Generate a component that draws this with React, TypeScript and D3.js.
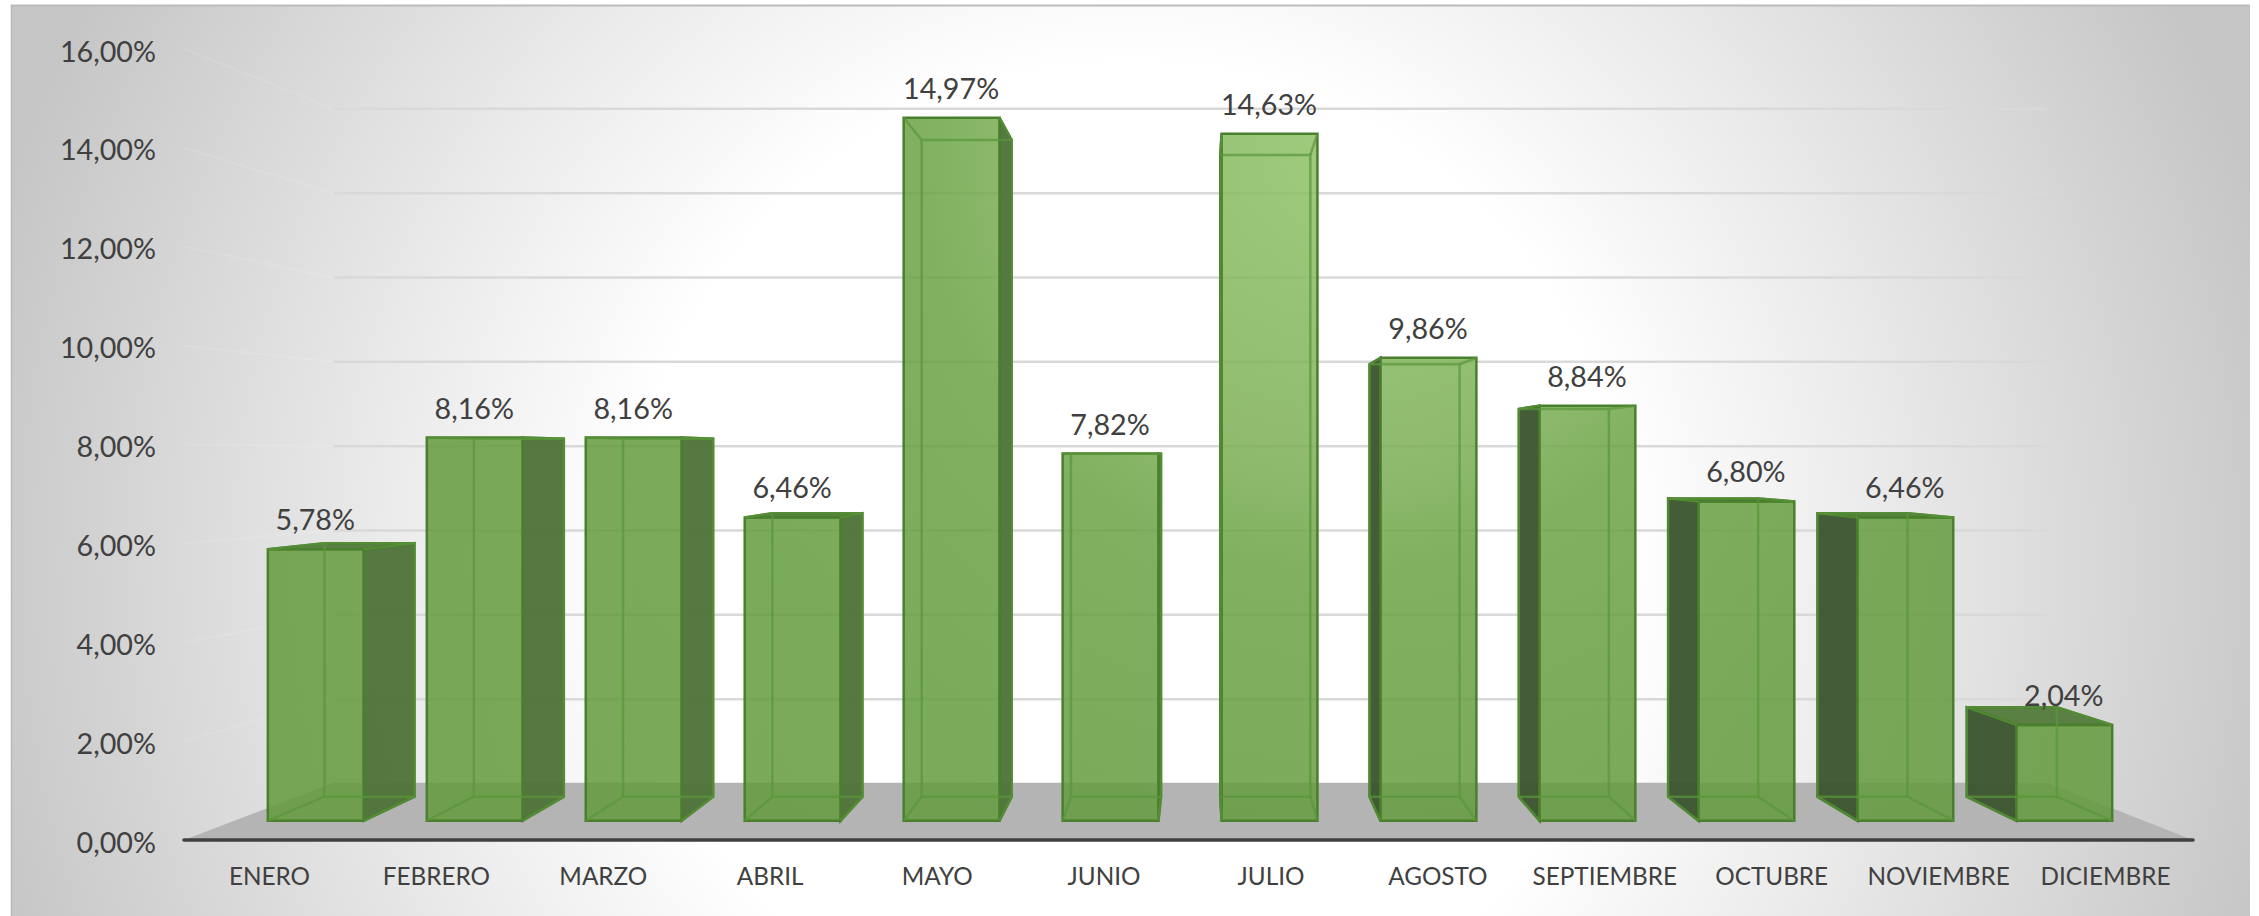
import React from 'react';
import * as d3 from 'd3';

const months = ['ENERO', 'FEBRERO', 'MARZO', 'ABRIL', 'MAYO', 'JUNIO', 'JULIO', 'AGOSTO', 'SEPTIEMBRE', 'OCTUBRE', 'NOVIEMBRE', 'DICIEMBRE'];
const shares = [5.78, 8.16, 8.16, 6.46, 14.97, 7.82, 14.63, 9.86, 8.84, 6.8, 6.46, 2.04];
const yTicks = [0, 2, 4, 6, 8, 10, 12, 14, 16];

const width = 2259;
const height = 916;
const font = 'Lato, "Open Sans", sans-serif';
const textColor = '#404040';
const axisLeft = 184;
const axisRight = 2193;

// front plane of the 3D box, everything else is pulled towards the vanishing point
const x = d3.scaleBand<string>().domain(months).range([185, 2194]).paddingInner(0.397).paddingOuter(0.2);
const y = d3.scaleLinear().domain([0, 16]).range([840, 49]);
const labelScale = d3.scaleBand<string>().domain(months).range([186, 2189]);
const vanish = { x: 1200, y: 456 };
const wallDepth = 0.851;
const barFront = 0.9497;
const barBack = 0.892;
const barBackY = 0.8872;

const comma = d3.formatLocale({ decimal: ',', thousands: '.', grouping: [3], currency: ['', ''] });
const pct = (v: number) => comma.format('.2f')(v) + '%';

const project = (px: number, py: number, sx: number, sy: number = sx): [number, number] => [
  vanish.x + (px - vanish.x) * sx,
  vanish.y + (py - vanish.y) * sy,
];

const line = d3.line();
const poly = (pts: [number, number][]) => line(pts) + 'Z';

function Bar({ month, value }: { month: string; value: number }) {
  const x0 = x(month) as number;
  const x1 = x0 + x.bandwidth();
  const f = [project(x0, y(value), barFront), project(x1, y(value), barFront), project(x1, y(0), barFront), project(x0, y(0), barFront)];
  const b = [project(x0, y(value), barBack, barBackY), project(x1, y(value), barBack, barBackY), project(x1, y(0), barBack, barBackY), project(x0, y(0), barBack, barBackY)];
  const labelX = (f[0][0] + f[1][0]) / 2 - 0.5;
  return (
    <g>
      {b[0][1] < f[0][1] && <path d={poly([f[0], f[1], b[1], b[0]])} fill="#5a8044" stroke="#44752a" strokeWidth={2.5} />}
      {b[0][0] < f[0][0] && <path d={poly([f[0], b[0], b[3], f[3]])} fill="#3c5530" fillOpacity={0.96} stroke="#3a6622" strokeWidth={2.5} />}
      {b[1][0] > f[1][0] && <path d={poly([f[1], b[1], b[2], f[2]])} fill="#4f7239" fillOpacity={0.96} stroke="#44752a" strokeWidth={2.5} />}
      <path d={poly(f)} fill="url(#barFill)" fillOpacity={0.85} stroke="#4a7f2d" strokeWidth={2.5} />
      <g fill="none" stroke="#5a963a" strokeOpacity={0.7} strokeWidth={2.5}>
        <path d={poly(b)} />
        {f.map((p, i) => (
          <path key={i} d={line([p, b[i]]) as string} />
        ))}
      </g>
      <text x={labelX} y={f[0][1] - 30} fontSize={28.7} textAnchor="middle" dominantBaseline="central" fill={textColor} fontFamily={font}>
        {pct(value)}
      </text>
    </g>
  );
}

export default function App() {
  return (
    <svg width={width} height={height} style={{ position: 'fixed', left: 0, top: 0, background: '#fff' }}>
      <defs>
        <radialGradient id="panelFill" gradientUnits="userSpaceOnUse" cx={1130} cy={560} r={1180}>
          <stop offset="0" stopColor="#ffffff" />
          <stop offset="0.42" stopColor="#ffffff" />
          <stop offset="0.62" stopColor="#ececec" />
          <stop offset="0.82" stopColor="#d8d8d8" />
          <stop offset="1" stopColor="#c6c6c6" />
        </radialGradient>
        <radialGradient id="barFill" gradientUnits="userSpaceOnUse" cx={1340} cy={150} r={1000}>
          <stop offset="0" stopColor="#8dc265" />
          <stop offset="0.3" stopColor="#7db057" />
          <stop offset="0.42" stopColor="#6ba344" />
          <stop offset="0.7" stopColor="#639c3d" />
          <stop offset="1" stopColor="#639b3c" />
        </radialGradient>
      </defs>

      <rect x={11} y={5} width={2239} height={911} fill="url(#panelFill)" />
      <line x1={11} x2={2250} y1={5.5} y2={5.5} stroke="#bcbcbc" strokeWidth={2} />
      <line x1={11.5} x2={11.5} y1={5} y2={916} stroke="#b8b8b8" strokeWidth={1.5} />

      {yTicks.filter((t) => t > 0).map((t) => {
        const back = project(axisLeft, y(t), 0.853);
        const right = project(axisRight, y(t), 0.853);
        return (
          <g key={t} fill="none">
            <path d={line([[axisLeft, y(t)], back]) as string} stroke="#ffffff" strokeOpacity={0.1} strokeWidth={2} />
            <path d={line([back, right]) as string} stroke="#d9d9d9" strokeWidth={2.5} />
          </g>
        );
      })}

      <path
        d={poly([[axisLeft, y(0)], project(axisLeft, y(0), 0.853, wallDepth), project(axisRight, y(0), 0.853, wallDepth), [axisRight, y(0)]])}
        fill="#b4b4b4"
      />

      {months.map((m, i) => (
        <Bar key={m} month={m} value={shares[i]} />
      ))}

      <line x1={axisLeft} x2={axisRight} y1={y(0)} y2={y(0)} stroke="#404040" strokeWidth={3.5} strokeLinecap="round" />

      {yTicks.map((t) => (
        <text key={t} x={156} y={y(t) + 1.5} fontSize={28.7} textAnchor="end" dominantBaseline="central" fill={textColor} fontFamily={font}>
          {pct(t)}
        </text>
      ))}

      {months.map((m) => (
        <text key={m} x={(labelScale(m) as number) + labelScale.bandwidth() / 2} y={875} fontSize={24.3} textAnchor="middle" dominantBaseline="central" fill={textColor} fontFamily={font}>
          {m}
        </text>
      ))}
    </svg>
  );
}
